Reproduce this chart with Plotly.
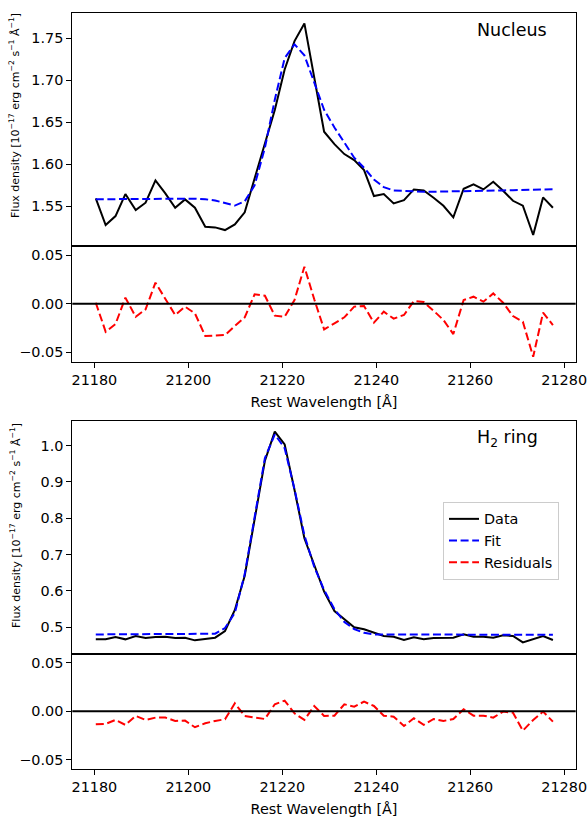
import plotly.graph_objects as go

# ---------------- data ----------------
wavelength = [21180.3, 21182.4, 21184.5, 21186.6, 21188.8, 21190.9, 21193.0, 21195.1,
              21197.2, 21199.3, 21201.4, 21203.6, 21205.7, 21207.8, 21209.9, 21212.0,
              21214.1, 21216.3, 21218.4, 21220.5, 21222.6, 21224.7, 21226.8, 21228.9,
              21231.1, 21233.2, 21235.3, 21237.4, 21239.5, 21241.6, 21243.7, 21245.9,
              21248.0, 21250.1, 21252.2, 21254.3, 21256.4, 21258.6, 21260.7, 21262.8,
              21264.9, 21267.0, 21269.1, 21271.2, 21273.4, 21275.5, 21277.6]

nucleus_data = [1.5595, 1.5278, 1.5385, 1.5647, 1.5456, 1.5544, 1.5810, 1.5655,
                1.5484, 1.5583, 1.5484, 1.5258, 1.5250, 1.5218, 1.5286, 1.5429,
                1.5833, 1.6250, 1.6647, 1.7131, 1.7468, 1.7679, 1.7024, 1.6389,
                1.6242, 1.6123, 1.6052, 1.5933, 1.5623, 1.5647, 1.5536, 1.5575,
                1.5702, 1.5690, 1.5603, 1.5508, 1.5369, 1.5710, 1.5762, 1.5702,
                1.5794, 1.5687, 1.5567, 1.5508, 1.5159, 1.5607, 1.5484]
nucleus_fit = [1.5585, 1.5586, 1.5587, 1.5588, 1.5590, 1.5592, 1.5594, 1.5596,
               1.5597, 1.5597, 1.5592, 1.5585, 1.5570, 1.5540, 1.5510, 1.5560,
               1.5750, 1.6200, 1.6770, 1.7265, 1.7430, 1.7299, 1.6980, 1.6650,
               1.6440, 1.6260, 1.6080, 1.5960, 1.5820, 1.5730, 1.5690, 1.5685,
               1.5675, 1.5673, 1.5675, 1.5676, 1.5679, 1.5680, 1.5684, 1.5685,
               1.5688, 1.5690, 1.5693, 1.5695, 1.5698, 1.5700, 1.5703]
nucleus_resid = [0.0010, -0.0288, -0.0209, 0.0062, -0.0134, -0.0058, 0.0216, 0.0055,
                 -0.0116, -0.0030, -0.0099, -0.0332, -0.0329, -0.0322, -0.0229, -0.0140,
                 0.0096, 0.0082, -0.0123, -0.0134, 0.0038, 0.0380, 0.0045, -0.0264,
                 -0.0202, -0.0140, -0.0030, -0.0024, -0.0195, -0.0082, -0.0154, -0.0116,
                 0.0027, 0.0017, -0.0072, -0.0168, -0.0312, 0.0038, 0.0072, 0.0021,
                 0.0106, 0.0010, -0.0127, -0.0185, -0.0545, -0.0092, -0.0219]

ring_data = [0.4660, 0.4660, 0.4724, 0.4660, 0.4752, 0.4697, 0.4724, 0.4733,
             0.4697, 0.4706, 0.4632, 0.4660, 0.4706, 0.4890, 0.5469, 0.6415,
             0.7950, 0.9586, 1.0386, 1.0037, 0.8778, 0.7445, 0.6710, 0.5974,
             0.5441, 0.5211, 0.4991, 0.4936, 0.4844, 0.4752, 0.4733, 0.4642,
             0.4715, 0.4660, 0.4697, 0.4697, 0.4706, 0.4798, 0.4733, 0.4733,
             0.4706, 0.4770, 0.4752, 0.4577, 0.4660, 0.4752, 0.4642]
ring_fit = [0.4795, 0.4795, 0.4795, 0.4795, 0.4795, 0.4795, 0.4795, 0.4795,
            0.4795, 0.4797, 0.4800, 0.4805, 0.4815, 0.4970, 0.5390, 0.6460,
            0.8010, 0.9660, 1.0310, 0.9930, 0.8800, 0.7530, 0.6660, 0.6020,
            0.5490, 0.5140, 0.4945, 0.4840, 0.4795, 0.4793, 0.4790, 0.4790,
            0.4790, 0.4790, 0.4790, 0.4790, 0.4790, 0.4790, 0.4788, 0.4788,
            0.4788, 0.4788, 0.4787, 0.4787, 0.4786, 0.4786, 0.4785]
ring_resid = [-0.0134, -0.0130, -0.0089, -0.0140, -0.0048, -0.0089, -0.0065, -0.0065,
              -0.0099, -0.0096, -0.0164, -0.0123, -0.0099, -0.0082, 0.0082, -0.0048,
              -0.0065, -0.0079, 0.0072, 0.0110, -0.0021, -0.0089, 0.0055, -0.0048,
              -0.0045, 0.0072, 0.0048, 0.0099, 0.0055, -0.0045, -0.0055, -0.0151,
              -0.0072, -0.0140, -0.0079, -0.0099, -0.0079, 0.0021, -0.0045, -0.0045,
              -0.0065, -0.0003, -0.0014, -0.0199, -0.0089, -0.0003, -0.0106]

x_ticks = [21180, 21200, 21220, 21240, 21260, 21280]
nucleus_ticks = [1.55, 1.60, 1.65, 1.70, 1.75]
ring_ticks = [0.5, 0.6, 0.7, 0.8, 0.9, 1.0]
resid_ticks = [-0.05, 0.0, 0.05]

# ---------------- figure ----------------
W, H = 588, 819
FONT = "DejaVu Sans"
TICKF = 14.4

def py(p):  # pixel (from top) -> paper
    return 1 - p / H

def px(p):
    return p / W

fig = go.Figure()

line_data = dict(color="black", width=2)
line_fit = dict(color="#0000ff", width=2, dash="8px,3.6px")
line_res = dict(color="#ff0000", width=2, dash="8px,3.6px")

# Nucleus
fig.add_trace(go.Scatter(x=wavelength, y=nucleus_data, mode="lines", line=line_data,
                         xaxis="x", yaxis="y", showlegend=False, name="Data"))
fig.add_trace(go.Scatter(x=wavelength, y=nucleus_fit, mode="lines", line=line_fit,
                         xaxis="x", yaxis="y", showlegend=False, name="Fit"))
fig.add_trace(go.Scatter(x=wavelength, y=nucleus_resid, mode="lines", line=line_res,
                         xaxis="x2", yaxis="y2", showlegend=False, name="Residuals"))
# H2 ring
fig.add_trace(go.Scatter(x=wavelength, y=ring_data, mode="lines", line=line_data,
                         xaxis="x3", yaxis="y3", showlegend=True, name="Data"))
fig.add_trace(go.Scatter(x=wavelength, y=ring_fit, mode="lines", line=line_fit,
                         xaxis="x3", yaxis="y3", showlegend=True, name="Fit"))
fig.add_trace(go.Scatter(x=wavelength, y=ring_resid, mode="lines", line=line_res,
                         xaxis="x4", yaxis="y4", showlegend=True, name="Residuals"))

xr = [21175.3, 21282.45]
xdom = [px(72.3), px(575.7)]

def xaxis(anchor, labels):
    d = dict(domain=xdom, range=xr, anchor=anchor, showline=True, mirror=True,
             linecolor="black", linewidth=1, showgrid=False, zeroline=False,
             automargin=False,
             tickfont=dict(family=FONT, size=TICKF, color="black"))
    if labels:
        d.update(tickvals=x_ticks, tickformat="d", ticks="outside", ticklen=5, tickwidth=1,
                 tickcolor="black", showticklabels=True, ticklabeloverflow="allow",
                 title=dict(text="Rest Wavelength [Å]", standoff=9,
                            font=dict(family=FONT, size=TICKF, color="black")))
    else:
        d.update(showticklabels=False, ticks="")
    return d

def yaxis(anchor, dom, rng, tv, fmt):
    return dict(domain=dom, range=rng, anchor=anchor, showline=True, mirror=True,
                linecolor="black", linewidth=1, showgrid=False, zeroline=False,
                automargin=False,
                tickvals=tv, tickformat=fmt, ticks="outside", ticklen=5, tickwidth=1,
                tickcolor="black",
                tickfont=dict(family=FONT, size=TICKF, color="black"))

fig.update_layout(
    width=W, height=H, margin=dict(l=0, r=0, t=0, b=0, autoexpand=False),
    paper_bgcolor="white", plot_bgcolor="white",
    font=dict(family=FONT, color="black"),
    xaxis=xaxis("y", False),
    xaxis2=xaxis("y2", True),
    xaxis3=xaxis("y3", False),
    xaxis4=xaxis("y4", True),
    yaxis=yaxis("x", [py(245.7), py(13)], [1.5032, 1.7803], nucleus_ticks, ".2f"),
    yaxis2=yaxis("x2", [py(362), py(245.7)], [-0.0599, 0.0596], resid_ticks, ".2f"),
    yaxis3=yaxis("x3", [py(653.7), py(420.7)], [0.4264, 1.0688], ring_ticks, ".1f"),
    yaxis4=yaxis("x4", [py(769), py(653.7)], [-0.0594, 0.0593], resid_ticks, ".2f"),
    legend=dict(x=px(443), y=py(502), xanchor="left", yanchor="top",
                bgcolor="rgba(255,255,255,0.8)", bordercolor="#cccccc", borderwidth=1,
                font=dict(family=FONT, size=TICKF, color="black"),
                itemwidth=30, tracegroupgap=0),
)

# zero lines in residual panels
for xa, ya in (("x2", "y2"), ("x4", "y4")):
    fig.add_shape(type="line", xref=f"{xa} domain", yref=ya, x0=0, x1=1, y0=0, y1=0,
                  line=dict(color="black", width=2))

ylabel = "Flux density [10<sup>−17</sup> erg cm<sup>−2</sup> s<sup>−1</sup> Å<sup>−1</sup>]"
for yc in (116, 526):
    fig.add_annotation(text=ylabel, x=px(15), y=py(yc), xref="paper", yref="paper",
                       textangle=-90, showarrow=False, xanchor="center", yanchor="middle",
                       font=dict(family=FONT, size=11, color="black"))

fig.add_annotation(text="Nucleus", x=px(475), y=py(30.5), xref="paper", yref="paper",
                   showarrow=False, xanchor="left", yanchor="middle",
                   font=dict(family=FONT, size=17.5, color="black"))
fig.add_annotation(text="H<sub>2</sub> ring", x=px(475), y=py(438), xref="paper", yref="paper",
                   showarrow=False, xanchor="left", yanchor="middle",
                   font=dict(family=FONT, size=17.5, color="black"))

fig.write_html("out.html")
